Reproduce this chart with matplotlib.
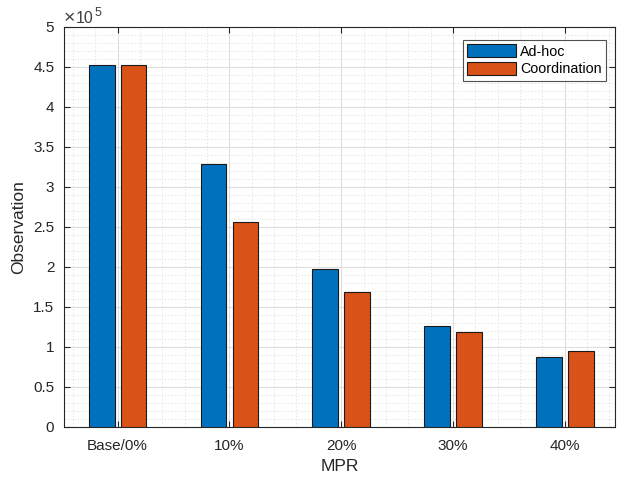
import matplotlib
matplotlib.use("Agg")
import matplotlib.pyplot as plt
import numpy as np
from matplotlib.ticker import MultipleLocator, FuncFormatter

categories = ["Base/0%", "10%", "20%", "30%", "40%"]
adhoc = [4.52e5, 3.29e5, 1.97e5, 1.26e5, 0.88e5]
coordination = [4.52e5, 2.56e5, 1.69e5, 1.19e5, 0.95e5]
series_names = ["Ad-hoc", "Coordination"]
colors = ["#0072BD", "#D95319"]

plt.rcParams['font.family'] = ['Liberation Sans', 'DejaVu Sans']
W, H = 626, 479
fig = plt.figure(figsize=(W/100, H/100), dpi=100)
ax = fig.add_axes([64/W, (H-427)/H, (615-64)/W, (427-27)/H])

x = np.arange(1, len(categories)+1)
bw = 0.23
off = 0.143
ax.bar(x - off, np.array(adhoc)/1e5, bw, color=colors[0], edgecolor="#1a1a1a", linewidth=0.8, label=series_names[0], zorder=3)
ax.bar(x + off, np.array(coordination)/1e5, bw, color=colors[1], edgecolor="#1a1a1a", linewidth=0.8, label=series_names[1], zorder=3)

ax.set_xlim(0.52, 5.45)
ax.set_ylim(0, 5)
ax.set_xticks(x)
ax.set_xticklabels(categories)
ax.set_yticks(np.arange(0, 5.01, 0.5))
ax.yaxis.set_major_formatter(FuncFormatter(lambda v, p: "%g" % round(v, 2)))
ax.xaxis.set_minor_locator(MultipleLocator(0.2))
ax.yaxis.set_minor_locator(MultipleLocator(0.1))

ax.set_axisbelow(True)
ax.grid(True, which="major", color="#dedede", linewidth=0.8, zorder=0)
ax.grid(True, which="minor", color="#e3e3e3", linewidth=0.6, linestyle=(0, (2, 2)), zorder=0)

tc = "#262626"
ax.tick_params(which="major", direction="in", length=4, width=0.8, colors=tc, labelsize=11,
               top=True, right=True)
ax.tick_params(axis="x", which="major", pad=9)
ax.tick_params(axis="y", which="major", pad=7)
ax.tick_params(which="minor", length=0, top=True, right=True)
for s in ax.spines.values():
    s.set_color(tc)
    s.set_linewidth(0.8)

ax.set_xlabel("MPR", fontsize=12.5, color=tc, labelpad=4)
ax.set_ylabel("Observation", fontsize=12.5, color=tc, labelpad=5)
fig.text(64/W, (H-23)/H, "×", fontsize=14, color="#404040", ha="left", va="baseline")
fig.text(76/W, (H-23)/H, "10", fontsize=11.5, color="#404040", ha="left", va="baseline")
fig.text(95/W, (H-16)/H, "5", fontsize=9, color="#404040", ha="left", va="baseline")

leg = ax.legend(loc="upper right", bbox_to_anchor=(1 - 9/551, 1 - 13/400), frameon=True, fancybox=False,
                edgecolor=tc, fontsize=10.3, handlelength=3.4, handleheight=1.0, handletextpad=0.3,
                borderpad=0.3, labelspacing=0.25, borderaxespad=0)
leg.get_frame().set_linewidth(0.8)

fig.savefig("out.png", dpi=100)
